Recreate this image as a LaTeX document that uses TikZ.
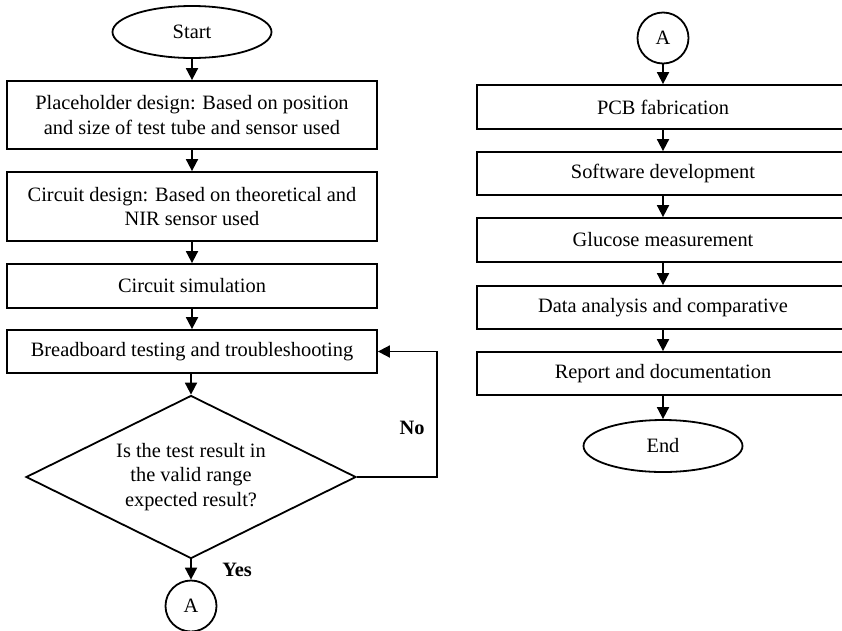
\documentclass[tikz,border=0pt]{standalone}
\usepackage{fontspec}
\setmainfont{Liberation Serif}
\usetikzlibrary{arrows.meta,shapes.geometric}

\begin{document}
\begin{tikzpicture}[x=1pt,y=-1pt,
  every node/.style={font=\fontsize{20.4}{24.5}\selectfont, inner sep=0pt},
  procbox/.style={draw, line width=1.8pt, minimum width=370pt, align=center},
  rbox/.style={draw, line width=1.8pt, minimum width=372pt, minimum height=43pt, align=center},
  term/.style={draw, ellipse, line width=1.8pt, minimum width=159pt, minimum height=52pt},
  connector/.style={draw, circle, line width=1.8pt, minimum size=51pt},
  decision/.style={draw, diamond, aspect=2, line width=1.8pt, minimum width=330pt, minimum height=163pt, align=center},
  flow/.style={-{Triangle[length=12pt,width=12pt]}, line width=1.8pt},
  branch/.style={font=\fontsize{20.4}{24}\selectfont\bfseries}]

\clip (0,0) rectangle (842,630);

% left column
\node[term] (start) at (192,32) {Start};
\node[procbox, minimum height=68pt] (place) at (192,115)
  {Placeholder design: Based on position\\and size of test tube and sensor used};
\node[procbox, minimum height=69pt] (circ) at (192,206.5)
  {Circuit design: Based on theoretical and\\NIR sensor used};
\node[procbox, minimum height=44pt] (sim) at (192,286) {Circuit simulation};
\node[procbox, minimum height=43pt] (bread) at (192,351.5) {Breadboard testing and troubleshooting};
\node[decision] (check) at (191,477)
  {Is the test result in\\the valid range\\expected result?};
\node[connector] (outA) at (191,606) {A};
\coordinate (noturn) at (437,477);

\draw[flow] (start) -- (place);
\draw[flow] (place) -- (circ);
\draw[flow] (circ) -- (sim);
\draw[flow] (sim) -- (bread);
\draw[flow] (bread.south -| check.north) -- (check.north);
\draw[flow] (check.south) -- (outA);
\draw[flow] (check.east) -- (noturn) |- (bread.east);

\node[branch] (no) at (412,428) {No};
\node[branch] (yes) at (237,570) {Yes};

% right column
\node[connector] (inA) at (663,38) {A};
\node[rbox, minimum height=44pt] (pcb) at (663,107) {PCB fabrication};
\node[rbox] (soft) at (663,173.5) {Software development};
\node[rbox, minimum height=44pt] (gluc) at (663,240) {Glucose measurement};
\node[rbox] (data) at (663,307.5) {Data analysis and comparative};
\node[rbox] (report) at (663,373.5) {Report and documentation};
\node[term] (stop) at (663,446) {End};

\draw[flow] (inA) -- (pcb);
\draw[flow] (pcb) -- (soft);
\draw[flow] (soft) -- (gluc);
\draw[flow] (gluc) -- (data);
\draw[flow] (data) -- (report);
\draw[flow] (report) -- (stop);
\end{tikzpicture}
\end{document}
